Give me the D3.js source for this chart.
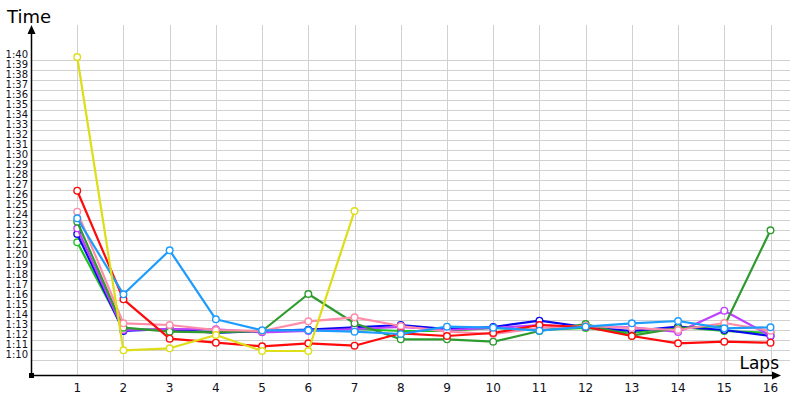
<!DOCTYPE html>
<html><head><meta charset="utf-8">
<script src="https://cdn.jsdelivr.net/npm/d3@7"></script>
<style>body{margin:0;background:#fff}svg{display:block}</style>
</head><body><svg id="c" width="800" height="400"></svg>
<script>
// lap numbers
const laps = d3.range(1, 17);
// y tick labels (seconds 70..100)
const yTickValues = d3.range(70, 101);
const yTickLabels = yTickValues.map(v => "1:" + String(v - 60).padStart(2, "0"));
// lap times in seconds for each driver
const greenLight = [81.77,73.1,73.0,72.8,72.9,73.0,73.1,72.9,72.9,73.2,73.0,73.2,72.7,73.3,72.9,72.7];
const blue       = [82.6,72.9,73.1,72.7,72.9,73.03,73.27,73.5,73.1,73.3,73.93,73.3,72.9,73.33,73.0,72.4];
const violet     = [83.17,73.0,73.1,73.07,72.77,72.9,73.1,73.3,73.0,73.2,73.5,73.3,73.27,72.8,74.93,72.43];
const greenDark  = [83.83,73.23,72.83,72.77,72.9,76.6,73.67,72.07,72.07,71.83,72.9,73.6,72.43,73.2,73.4,82.97];
const pink       = [84.83,73.67,73.5,73.0,72.9,73.87,74.27,73.4,72.83,72.6,73.2,73.4,73.2,73.0,73.7,72.93];
const red        = [86.93,76.07,72.13,71.73,71.37,71.67,71.43,72.67,72.4,72.7,73.5,73.3,72.4,71.67,71.83,71.73];
const sky        = [84.17,76.57,80.97,74.07,72.97,72.97,72.83,72.6,73.33,73.23,72.93,73.33,73.67,73.9,73.17,73.27];
const yellow     = [100.3,70.97,71.17,72.5,70.9,70.9,84.9];

const series = [
  {values: greenLight, color: "#1fc41f"},
  {values: blue, color: "#0a0af0"},
  {values: violet, color: "#c040ff"},
  {values: greenDark, color: "#2f9a2f"},
  {values: pink, color: "#ff8ca8"},
  {values: red, color: "#ff0a0a"},
  {values: sky, color: "#1c9cff"},
  {values: yellow, color: "#dede18"}
];

const svg = d3.select("#c");
const x = d3.scaleLinear().domain([0, 16]).range([31, 770.5]);
const y = d3.scaleLinear().domain([70, 100]).range([360, 60]);
const axisY = 375;
const font = "DejaVu Sans, Verdana, sans-serif";

// grid
const g = svg.append("g");
g.selectAll("line.h").data(yTickValues).enter().append("line")
  .attr("x1", 31).attr("x2", 790).attr("y1", d => y(d)).attr("y2", d => y(d))
  .attr("stroke", "#d0d0d0").attr("stroke-width", 1).attr("shape-rendering", "crispEdges");
g.selectAll("line.v").data(laps).enter().append("line")
  .attr("x1", d => Math.round(x(d))+0.5).attr("x2", d => Math.round(x(d))+0.5).attr("y1", 25).attr("y2", axisY)
  .attr("stroke", "#d0d0d0").attr("stroke-width", 1);

// y tick labels
svg.append("g").selectAll("text").data(yTickValues).enter().append("text")
  .attr("x", 28).attr("y", d => y(d) - 6).attr("dy", "0.35em")
  .attr("text-anchor", "end").attr("font-family", font)
  .attr("font-size", 10).attr("fill", "#101020").text((d, i) => yTickLabels[i]);

// x tick labels
svg.append("g").selectAll("text").data(laps).enter().append("text")
  .attr("x", d => x(d)).attr("y", 388).attr("dy", "0.35em")
  .attr("text-anchor", "middle").attr("font-family", font)
  .attr("font-size", 12).attr("fill", "#101020").text(d => d);

// axes
svg.append("line").attr("x1", 31.5).attr("x2", 31.5).attr("y1", axisY).attr("y2", 28)
  .attr("stroke", "#000").attr("stroke-width", 1.5);
svg.append("path").attr("d", "M31.5,25 L27.5,34 L35.5,34 Z").attr("fill", "#000");
svg.append("line").attr("x1", 31).attr("x2", 778).attr("y1", axisY + 0.5).attr("y2", axisY + 0.5)
  .attr("stroke", "#000").attr("stroke-width", 1.5);
svg.append("path").attr("d", `M781,${axisY+0.5} L772,${axisY-3.5} L772,${axisY+4.5} Z`).attr("fill", "#000");
svg.append("rect").attr("x", 29).attr("y", axisY - 2).attr("width", 5).attr("height", 5).attr("fill", "#000");

svg.append("text").attr("x", 7).attr("y", 23).attr("font-family", font)
  .attr("font-size", 18).attr("fill", "#000").text("Time");
svg.append("text").attr("x", 779).attr("y", 369).attr("text-anchor", "end")
  .attr("font-family", font)
  .attr("font-size", 17).attr("fill", "#000").text("Laps");

// lines
const line = d3.line().x((d, i) => x(i + 1)).y(d => y(d));
series.forEach(s => {
  const sg = svg.append("g");
  sg.append("path").datum(s.values).attr("d", line).attr("fill", "none")
    .attr("stroke", s.color).attr("stroke-width", 2.2).attr("stroke-linejoin", "round");
  sg.selectAll("circle").data(s.values).enter().append("circle")
    .attr("cx", (d, i) => x(i + 1)).attr("cy", d => y(d)).attr("r", 3.3)
    .attr("fill", "#fff").attr("stroke", s.color).attr("stroke-width", 1.4);
});
</script></body></html>
